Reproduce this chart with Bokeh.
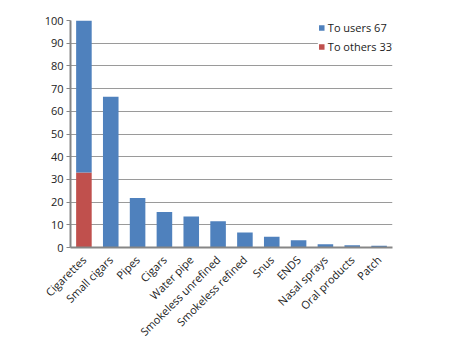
import math
from bokeh.plotting import figure
from bokeh.models import Range1d, FactorRange, Legend, LegendItem, FixedTicker
from bokeh.embed import file_html
from bokeh.resources import INLINE

categories = ["Cigarettes", "Small cigars", "Pipes", "Cigars", "Water pipe",
              "Smokeless unrefined", "Smokeless refined", "Snus", "ENDS",
              "Nasal sprays", "Oral products", "Patch"]
to_others = [33, 0, 0, 0, 0, 0, 0, 0, 0, 0, 0, 0]
to_users = [67, 66.4, 21.8, 15.6, 13.7, 11.6, 6.6, 4.7, 3.2, 1.4, 1.0, 0.8]
y_ticks = [0, 10, 20, 30, 40, 50, 60, 70, 80, 90, 100]

FONT = "Open Sans"
TXT = "#222222"

p = figure(width=458, height=351, x_range=FactorRange(*categories, range_padding=0),
           y_range=Range1d(0, 100), output_backend="svg", toolbar_location=None,
           min_border_left=70, min_border_right=66, min_border_top=20, min_border_bottom=104)
p.outline_line_color = None

src = dict(cat=categories, others=to_others, users=to_users)
r = p.vbar_stack(["others", "users"], x="cat", width=0.58, source=src,
                 color=["#C0504D", "#4F81BD"], line_color=None)

legend = Legend(items=[LegendItem(label="To users 67", renderers=[r[1]]),
                       LegendItem(label="To others 33", renderers=[r[0]])],
                location="top_right", margin=0, padding=5, spacing=4,
                glyph_width=7, glyph_height=7, label_height=14, label_standoff=3,
                label_text_font=FONT, label_text_font_size="11px", label_text_color=TXT,
                border_line_color=None, background_fill_color="white", background_fill_alpha=1)
p.add_layout(legend)

p.xgrid.grid_line_color = None
p.ygrid.grid_line_color = "#9a9a9a"
p.ygrid.grid_line_width = 1
p.yaxis.ticker = FixedTicker(ticks=y_ticks)

for ax in (p.xaxis[0], p.yaxis[0]):
    ax.axis_line_color = "#868686"
    ax.axis_line_width = 2
    ax.major_label_text_font = FONT
    ax.major_label_text_font_size = "11px"
    ax.major_label_text_color = TXT
    ax.minor_tick_line_color = None

p.yaxis.major_tick_line_color = "#868686"
p.yaxis.major_tick_in = 0
p.yaxis.major_tick_out = 4
p.yaxis.major_label_standoff = 3
p.xaxis.major_tick_line_color = None
p.xaxis.major_label_orientation = math.pi / 4
p.xaxis.major_label_standoff = 4

open("out.html", "w").write(file_html(p, INLINE))
